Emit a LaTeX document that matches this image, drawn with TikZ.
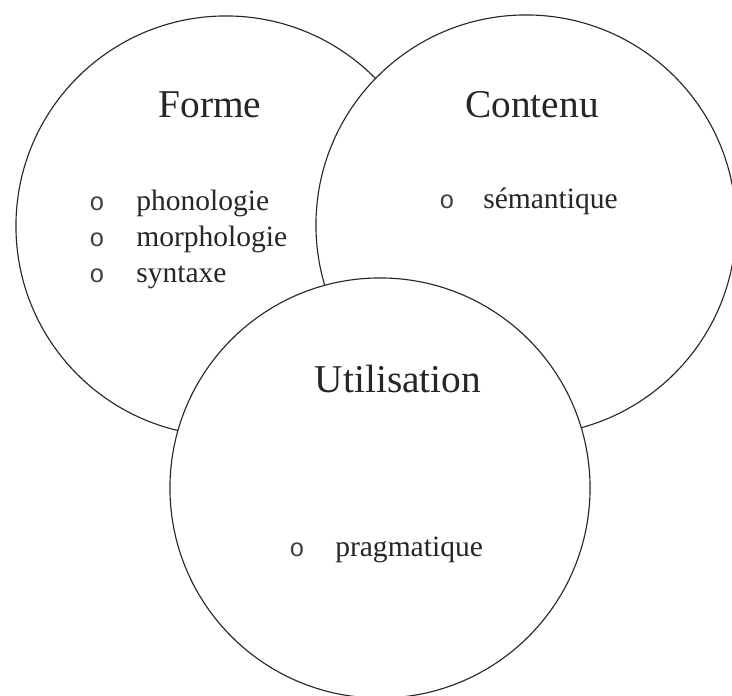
\documentclass[tikz,border=0pt]{standalone}
\usepackage{fontspec}
\setmainfont{Liberation Serif}
\newfontfamily\bulletfont{Liberation Mono}
\usetikzlibrary{positioning}

\begin{document}
\begin{tikzpicture}[x=0.025cm, y=-0.025cm,
    sphere/.style = {circle, draw=black!85, line width=0.8pt, fill=white, minimum size=10.5cm},
    title/.style = {font=\fontsize{28}{32}\selectfont, text=black!85, anchor=base, inner sep=0pt},
    item/.style = {font=\fontsize{21}{25}\selectfont, text=black!85, anchor=base west, inner sep=0pt},
    puce/.style = {font=\bulletfont\fontsize{18}{22}\selectfont, text=black!75, anchor=base, inner sep=0pt}]
\useasboundingbox (0,0) rectangle (732,696);
% the three circles, each one covers the previous
\node[sphere] (forme) at (226,226) {};
\node[sphere] (contenu) at (526,225) {};
\node[sphere] (utilisation) at (380,488) {};

\node[title] (formeT) at (210,118) {Forme};
\node[title] (contenuT) at (532,118) {Contenu};
\node[title] (utilisationT) at (398,392) {Utilisation};

\foreach \mot [count=\i] in {phonologie, morphologie, syntaxe} {
    \node[puce] (puce\i) at (97,174+36*\i) {o};
    \node[item] (mot\i) at (136,174+36*\i) {\mot};
}
\node[puce] (puceS) at (447,208) {o};
\node[item] (semantique) at (483,208) {sémantique};
\node[puce] (puceP) at (297,556) {o};
\node[item] (pragmatique) at (335,556) {pragmatique};
\end{tikzpicture}
\end{document}
